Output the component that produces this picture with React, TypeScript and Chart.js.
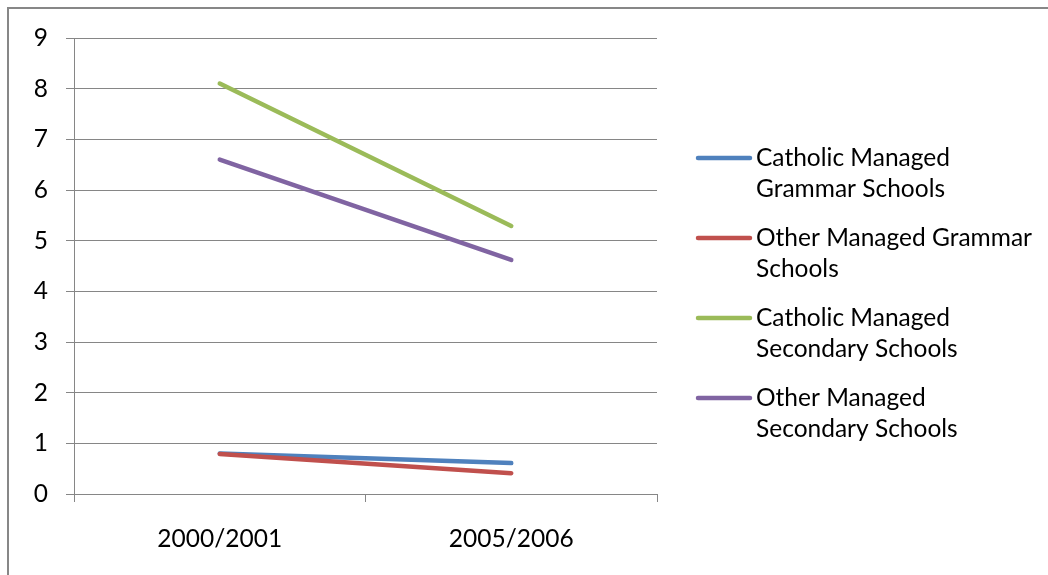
import React, { useEffect, useRef } from "react";
import { Chart, registerables } from "chart.js";

Chart.register(...registerables);

const categories = ["2000/2001", "2005/2006"];
const seriesNames = [
  ["Catholic Managed", "Grammar Schools"],
  ["Other Managed Grammar", "Schools"],
  ["Catholic Managed", "Secondary Schools"],
  ["Other Managed", "Secondary Schools"],
];
const catholicGrammar = [0.8, 0.61];
const otherGrammar = [0.79, 0.41];
const catholicSecondary = [8.1, 5.29];
const otherSecondary = [6.6, 4.62];
const seriesColors = ["#4F81BD", "#C0504D", "#9BBB59", "#8064A2"];
const yMin = 0;
const yMax = 9;

const FONT = "Lato, 'Open Sans', sans-serif";
const FONT_SIZE = 24.5;

const legendPlugin = {
  id: "excelLegend",
  afterDraw(chart: any) {
    const ctx = chart.ctx;
    const x0 = 698;
    const x1 = 750;
    const tx = 756;
    const startY = 158;
    const itemGap = 80;
    const lineH = 31.5;
    ctx.save();
    ctx.font = `${FONT_SIZE}px ${FONT}`;
    ctx.textBaseline = "middle";
    ctx.textAlign = "left";
    chart.data.datasets.forEach((ds: any, i: number) => {
      const y = startY + i * itemGap;
      ctx.strokeStyle = ds.borderColor;
      ctx.lineWidth = 4.5;
      ctx.lineCap = "round";
      ctx.beginPath();
      ctx.moveTo(x0, y);
      ctx.lineTo(x1, y);
      ctx.stroke();
      ctx.fillStyle = "#000000";
      const lines: string[] = ds.legendLines;
      lines.forEach((t, j) => ctx.fillText(t, tx, y + j * lineH));
    });
    ctx.restore();
  },
};

export default function App() {
  const ref = useRef<HTMLCanvasElement | null>(null);
  useEffect(() => {
    if (!ref.current) return;
    const values = [catholicGrammar, otherGrammar, catholicSecondary, otherSecondary];
    const chart = new Chart(ref.current, {
      type: "line",
      data: {
        labels: categories,
        datasets: values.map((v, i) => ({
          label: seriesNames[i].join(" "),
          legendLines: seriesNames[i],
          data: v,
          order: values.length - 1 - i,
          borderColor: seriesColors[i],
          backgroundColor: seriesColors[i],
          borderWidth: 4.5,
          borderCapStyle: "round",
          pointRadius: 0,
          tension: 0,
          fill: false,
        })) as any,
      },
      options: {
        animation: false,
        responsive: false,
        maintainAspectRatio: false,
        layout: { padding: { top: 38, right: 391, bottom: 0, left: 0 } },
        plugins: { legend: { display: false }, tooltip: { enabled: false } },
        scales: {
          x: {
            type: "category",
            offset: true,
            grid: {
              offset: true,
              drawOnChartArea: false,
              drawTicks: true,
              tickLength: 8,
              color: "#868686",
            },
            border: { display: true, color: "#868686", width: 1 },
            ticks: {
              color: "#000000",
              font: { family: FONT, size: FONT_SIZE },
              padding: 22,
              maxRotation: 0,
            },
            afterFit(scale: any) {
              scale.height = 81;
            },
          },
          y: {
            min: yMin,
            max: yMax,
            grid: { color: "#868686", tickLength: 8, drawTicks: true },
            border: { display: true, color: "#868686", width: 1 },
            ticks: {
              stepSize: 1,
              color: "#000000",
              font: { family: FONT, size: FONT_SIZE },
              padding: 18,
            },
            afterFit(scale: any) {
              scale.width = 74;
            },
          },
        },
      },
      plugins: [legendPlugin],
    });
    return () => chart.destroy();
  }, []);
  return (
    <div
      style={{
        position: "fixed",
        left: 0,
        top: 0,
        width: 1048,
        height: 575,
        background: "#ffffff",
        overflow: "hidden",
      }}
    >
      <div
        style={{
          position: "absolute",
          left: 7,
          top: 7,
          width: 1100,
          height: 600,
          borderLeft: "2px solid #878787",
          borderTop: "2px solid #878787",
          boxSizing: "border-box",
        }}
      />
      <canvas
        ref={ref}
        width={1048}
        height={575}
        style={{ position: "absolute", left: 0, top: 0, width: 1048, height: 575 }}
      />
    </div>
  );
}
